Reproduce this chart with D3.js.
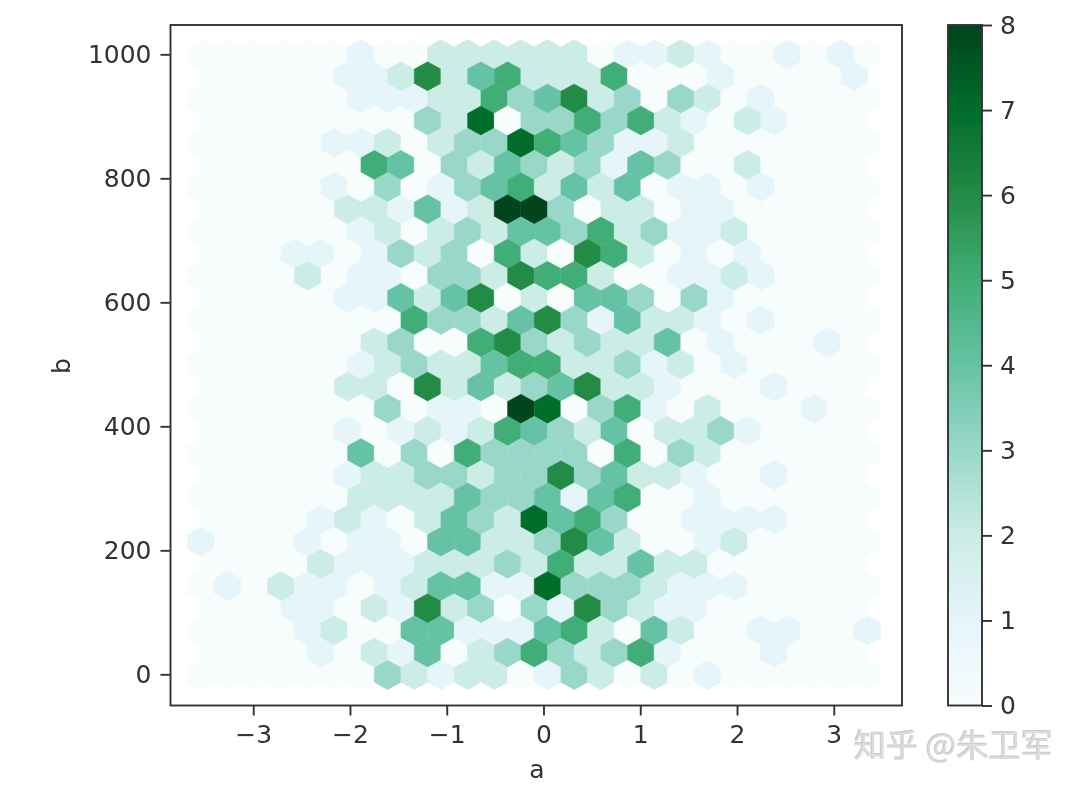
<!DOCTYPE html>
<html>
<head>
<meta charset="utf-8">
<script src="https://cdn.jsdelivr.net/npm/d3@7"></script>
<style>
html,body{margin:0;padding:0;background:#fff;}
svg{display:block;}
text{font-family:"DejaVu Sans",sans-serif;fill:#333;}
</style>
</head>
<body>
<svg id="chart" width="1080" height="789"></svg>
<script>
// Hexbin counts per row, top row (b≈1000) first. Long rows have 26 cells, short rows 25.
const counts = [
[0,0,0,0,0,0,1,0,0,2,2,2,2,2,2,0,1,1,2,1,0,0,1,0,1,0],
[0,0,0,0,0,1,1,2,6,2,4,5,2,2,2,5,0,0,0,1,0,0,0,0,1],
[0,0,0,0,0,0,1,1,1,2,2,5,3,4,6,2,3,0,3,2,0,1,0,0,0,0],
[0,0,0,0,0,0,0,0,3,2,7,0,3,3,5,3,5,2,1,0,2,1,0,0,0],
[0,0,0,0,0,1,1,2,0,2,3,3,7,5,4,3,1,1,2,0,0,0,0,0,0,0],
[0,0,0,0,0,0,5,4,0,3,2,4,3,2,3,1,4,3,0,0,2,0,0,0,0],
[0,0,0,0,0,1,0,3,0,1,3,4,5,2,4,2,4,0,1,1,0,1,0,0,0,0],
[0,0,0,0,0,2,2,1,4,1,2,8,8,3,0,2,2,0,1,1,0,0,0,0,0],
[0,0,0,0,0,0,1,2,0,2,3,2,4,4,3,5,2,3,1,1,2,0,0,0,0,0],
[0,0,0,1,1,0,1,3,2,3,0,5,2,0,6,5,2,0,1,0,1,0,0,0,0],
[0,0,0,0,2,0,1,1,0,3,3,2,6,5,5,2,0,0,1,1,2,1,0,0,0,0],
[0,0,0,0,0,1,1,4,2,4,6,0,2,0,4,4,3,0,3,1,0,0,0,0,0],
[0,0,0,0,0,0,0,0,5,3,3,2,4,6,3,1,4,2,2,1,0,1,0,0,0,0],
[0,0,0,0,0,0,2,3,0,0,5,6,3,2,3,2,2,4,0,1,0,0,0,1,0],
[0,0,0,0,0,0,1,2,3,2,2,4,5,5,2,2,3,1,2,0,1,0,0,0,0,0],
[0,0,0,0,0,2,2,0,6,2,4,2,3,4,6,2,2,1,0,0,0,1,0,0,0],
[0,0,0,0,0,0,0,3,0,1,1,0,8,7,0,3,5,1,0,2,0,0,0,1,0,0],
[0,0,0,0,0,1,0,1,2,1,2,5,4,3,2,4,0,2,2,3,1,0,0,0,0],
[0,0,0,0,0,0,4,0,3,0,5,3,3,3,3,0,5,0,3,2,0,0,0,0,0,0],
[0,0,0,0,0,1,2,2,3,3,2,3,3,6,3,4,2,2,1,0,0,1,0,0,0],
[0,0,0,0,0,0,2,2,2,2,4,3,3,4,1,4,5,0,0,1,0,0,0,0,0,0],
[0,0,0,0,1,2,1,0,2,4,3,2,7,4,5,3,0,0,1,1,1,1,0,0,0],
[1,0,0,0,1,0,1,1,0,4,4,2,2,3,6,4,2,0,0,1,2,0,0,0,0,0],
[0,0,0,0,2,1,1,1,2,2,2,3,2,5,2,2,4,2,2,0,0,0,0,0,0],
[0,1,0,2,1,1,0,1,2,4,4,1,1,7,3,3,3,2,1,1,1,0,0,0,0,0],
[0,0,0,1,1,0,2,1,6,2,3,0,3,1,6,3,2,1,1,0,0,0,0,0,0],
[0,0,0,0,1,2,0,0,4,4,1,1,1,4,5,2,0,4,2,0,0,1,1,0,0,1],
[0,0,0,0,1,0,2,1,4,0,2,3,5,3,2,3,5,1,0,0,0,1,0,0,0],
[0,0,0,0,0,0,0,3,2,1,2,2,0,1,3,2,0,2,0,1,0,0,0,0,0,0]
];
const xTicks = [-3,-2,-1,0,1,2,3];
const yTicks = [0,200,400,600,800,1000];
const barTicks = [0,1,2,3,4,5,6,7,8];
const palette = ["#f7fcfd","#e5f5f9","#ccece6","#99d8c9","#66c2a4","#41ae76","#238b45","#006d2c","#00441b"];
const xLabel = "a";
const yLabel = "b";
const watermark = "知乎 @朱卫军";
const aFirst = -3.54, aStep = 0.2755, bLast = -1, bStep = 35.75;

const svg = d3.select("#chart");
const L=170.5,R=902,T=25,B=705.5;
const x = d3.scaleLinear().domain([-3.86,3.705]).range([170,902]);
const y = d3.scaleLinear().domain([-49.5,1047.3]).range([705,25]);
const color = d3.scaleLinear().domain(barTicks).range(palette).clamp(true);

const defs = svg.append("defs");
const blur = defs.append("filter").attr("id","soft").attr("x","-2%").attr("y","-2%").attr("width","104%").attr("height","104%");
blur.append("feGaussianBlur").attr("stdDeviation",0.7);

const cells = [];
counts.forEach((row,i)=>{
  const long = row.length===26;
  row.forEach((v,j)=>{
    cells.push({a:aFirst+aStep*(j+(long?0:0.5)), b:bLast+bStep*(counts.length-1-i), v});
  });
});
const hexPath = d=>{
  const p=d3.path();
  const off=[[0,2/3],[.5,1/3],[.5,-1/3],[0,-2/3],[-.5,-1/3],[-.5,1/3]];
  off.forEach((o,n)=>{
    const px=x(d.a+o[0]*aStep), py=y(d.b+o[1]*bStep);
    n?p.lineTo(px,py):p.moveTo(px,py);
  });
  p.closePath();
  return p.toString();
};
const plot = svg.append("g").attr("filter","url(#soft)");
plot.append("g").selectAll("path").data(cells).join("path")
  .attr("d",hexPath).attr("fill",d=>color(d.v)).attr("stroke",d=>color(d.v)).attr("stroke-width",0.4);

function styleAxis(g){
  g.selectAll(".domain").remove();
  g.selectAll("line").attr("stroke","#333").attr("stroke-width",1.9);
  g.selectAll("text").attr("font-size",25).attr("fill","#333").attr("font-family","'DejaVu Sans',sans-serif");
}
const fmt = d=>String(d).replace("-","\u2212");
const ui = svg.append("g").attr("filter","url(#soft)");
ui.append("g").attr("transform",`translate(0,${B})`)
  .call(d3.axisBottom(x).tickValues(xTicks).tickFormat(fmt).tickSize(10).tickPadding(10)).call(styleAxis);
ui.append("g").attr("transform",`translate(${L},0)`)
  .call(d3.axisLeft(y).tickValues(yTicks).tickFormat(fmt).tickSize(10).tickPadding(9)).call(styleAxis);
ui.append("rect").attr("x",L).attr("y",T).attr("width",R-L).attr("height",B-T)
  .attr("fill","none").attr("stroke","#333").attr("stroke-width",1.9);
ui.append("text").attr("x",537).attr("y",778).attr("text-anchor","middle").attr("font-size",25).text(xLabel);
ui.append("text").attr("transform","translate(70,366) rotate(-90)").attr("text-anchor","middle").attr("font-size",25).text(yLabel);

// colour bar
const grad = defs.append("linearGradient").attr("id","bar").attr("x1",0).attr("y1",1).attr("x2",0).attr("y2",0);
barTicks.forEach(t=>grad.append("stop").attr("offset",t/8).attr("stop-color",color(t)));
const CL=948,CR=982;
const cb = d3.scaleLinear().domain([0,8]).range([B,T]);
ui.append("rect").attr("x",CL).attr("y",T).attr("width",CR-CL).attr("height",B-T)
  .attr("fill","url(#bar)").attr("stroke","#333").attr("stroke-width",1.9);
ui.append("g").attr("transform",`translate(${CR},0)`)
  .call(d3.axisRight(cb).tickValues(barTicks).tickFormat(d3.format("d")).tickSize(10).tickPadding(8)).call(styleAxis);

// watermark
const emboss = defs.append("filter").attr("id","emboss");
emboss.append("feDropShadow").attr("dx",-0.6).attr("dy",-0.6).attr("stdDeviation",0.4).attr("flood-color","#aaaaaa");
svg.append("text").attr("x",854).attr("y",757).attr("font-size",32.3)
  .attr("filter","url(#emboss)")
  .attr("style","fill:#dcdcdc;font-family:'Noto Sans CJK SC'").text(watermark);
</script>
</body>
</html>
